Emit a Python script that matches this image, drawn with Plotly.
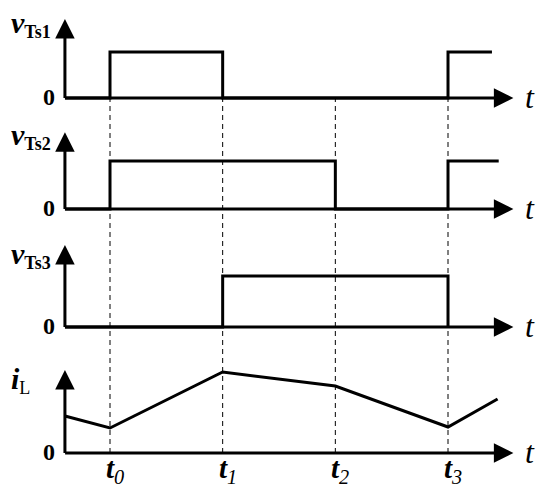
import plotly.graph_objects as go

# --- datos (tiempo normalizado: t0=1 ... t3=4, origen del eje en 0.6) ---
T_ORIGEN = 0.6
T_EVENTOS = [1, 2, 3, 4]
ETIQUETAS_T = ["0", "1", "2", "3"]

t_vts1 = [0.6, 1, 1, 2, 2, 4, 4, 4.39]
v_vts1 = [0, 0, 1, 1, 0, 0, 1, 1]

t_vts2 = [0.6, 1, 1, 3, 3, 4, 4, 4.45]
v_vts2 = [0, 0, 1, 1, 0, 0, 1, 1]

t_vts3 = [0.6, 2, 2, 4, 4]
v_vts3 = [0, 0, 1, 1, 0]

t_il = [0.6, 1, 2, 3, 4, 4.44]
v_il = [0.74, 0.5, 1.62, 1.34, 0.52, 1.08]

# puntas de flecha de los ejes
T_FLECHA = 4.58
Y_FLECHA = [1.72, 1.60, 1.61, 1.66]

# la página deja 8 px de margen en el body: se compensa
OFF = 8
W, H = 550 - OFF, 495 - OFF
NEGRO = "#000000"
FUENTE = "Liberation Serif"


def py(p):  # pixel vertical de pantalla -> paper
    return 1 - (p - OFF) / H


def px(p):
    return (p - OFF) / W


# paneles: (limite sup px, limite inf px, base px, escala px/unidad)
paneles = [(OFF, 115, 98, 46), (115, 230, 209, 48), (230, 345, 327, 51), (345, 495, 453, 50)]

fig = go.Figure()

series = [(t_vts1, v_vts1), (t_vts2, v_vts2), (t_vts3, v_vts3), (t_il, v_il)]
for i, (tx, vy) in enumerate(series):
    ref = "y" if i == 0 else f"y{i + 1}"
    fig.add_trace(go.Scatter(x=tx, y=vy, mode="lines", xaxis="x", yaxis=ref,
                             line=dict(color=NEGRO, width=3), showlegend=False,
                             hoverinfo="skip"))

esc_x = 112.67  # px por unidad de tiempo
layout = dict(
    width=W, height=H, margin=dict(l=0, r=0, t=0, b=0),
    paper_bgcolor="white", plot_bgcolor="white", showlegend=False,
    xaxis=dict(range=[1 - (110 - OFF) / esc_x, 1 + (550 - 110) / esc_x],
               visible=False, fixedrange=True),
)
for i, (top, bot, base, s) in enumerate(paneles):
    key = "yaxis" if i == 0 else f"yaxis{i + 1}"
    layout[key] = dict(domain=[py(bot), py(top)],
                       range=[(base - bot) / s, (base - top) / s],
                       visible=False, fixedrange=True)
fig.update_layout(**layout)

# lineas discontinuas verticales en los instantes t0..t3
for t in T_EVENTOS:
    fig.add_shape(type="line", xref="x", yref="paper", x0=t, x1=t,
                  y0=py(453), y1=py(98), layer="below",
                  line=dict(color=NEGRO, width=1, dash="5px,4px"))

# ejes con flechas
for i in range(4):
    ref = "y" if i == 0 else f"y{i + 1}"
    fig.add_annotation(x=T_FLECHA, y=0, ax=T_ORIGEN - 0.012, ay=0, xref="x", yref=ref,
                       axref="x", ayref=ref, text="", showarrow=True,
                       arrowhead=2, arrowsize=1.3, arrowwidth=3, arrowcolor=NEGRO,
                       standoff=0, startstandoff=0)
    fig.add_annotation(x=T_ORIGEN, y=Y_FLECHA[i], ax=T_ORIGEN, ay=-0.03, xref="x", yref=ref,
                       axref="x", ayref=ref, text="", showarrow=True,
                       arrowhead=2, arrowsize=1.3, arrowwidth=3, arrowcolor=NEGRO,
                       standoff=0, startstandoff=0)
    base = paneles[i][2]
    fig.add_annotation(x=px(49), y=py(base - 1), xref="paper", yref="paper", text="<b>0</b>",
                       xanchor="center", yanchor="middle", showarrow=False,
                       font=dict(family=FUENTE, size=24, color=NEGRO))
    fig.add_annotation(x=px(530), y=py(base - 1), xref="paper", yref="paper", text="<i>t</i>",
                       xanchor="center", yanchor="middle", showarrow=False,
                       font=dict(family=FUENTE, size=32, color=NEGRO))

# etiquetas de las señales
GRANDE = '<span style="font-size:30px"><b><i>%s</i></b></span>'
SUB = '<sub><span style="font-size:18px">%s</span></sub>'
etiquetas = [(GRANDE % "v" + SUB % "<b>Ts1</b>", 24),
             (GRANDE % "v" + SUB % "<b>Ts2</b>", 136),
             (GRANDE % "v" + SUB % "<b>Ts3</b>", 255),
             (GRANDE % "i" + SUB % "L", 380)]
for txt, yy in etiquetas:
    fig.add_annotation(x=px(9), y=py(yy), xref="paper", yref="paper", text=txt,
                       xanchor="left", yanchor="middle", showarrow=False,
                       font=dict(family=FUENTE, size=24, color=NEGRO))

# etiquetas t0..t3
for t, lab in zip(T_EVENTOS, ETIQUETAS_T):
    fig.add_annotation(x=t, y=py(470), xref="x", yref="paper", xshift=5,
                       xanchor="center", yanchor="middle",
                       text=f"<b><i>t</i></b><sub><i>{lab}</i></sub>", showarrow=False,
                       font=dict(family=FUENTE, size=29, color=NEGRO))

fig.write_html("out.html")
